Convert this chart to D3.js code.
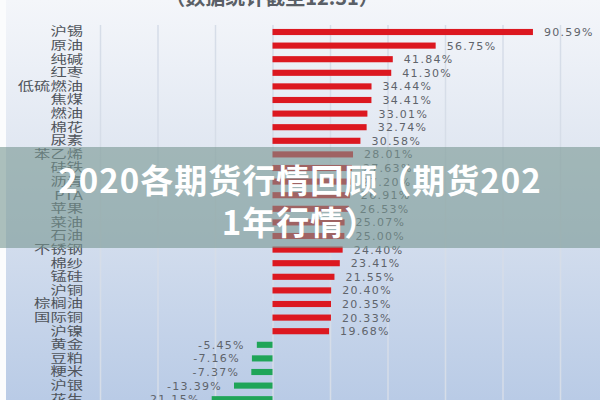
<!DOCTYPE html>
<html>
<head>
<meta charset="utf-8">
<script src="https://cdn.jsdelivr.net/npm/d3@7"></script>
<style>
  body { margin: 0; background: #fff; }
  svg { display: block; }
</style>
</head>
<body>
<svg width="600" height="400"></svg>
<script>
// categories top to bottom, with their 2020 change in %
const categories = ['沪锡', '原油', '纯碱', '红枣', '低硫燃油', '焦煤', '燃油', '棉花', '尿素',
    '苯乙烯', '硅铁', '沥青', 'PTA', '苹果', '菜油', '石油', '不锈钢', '棉纱', '锰硅', '沪铜',
    '棕榈油', '国际铜', '沪镍', '黄金', '豆粕', '粳米', '沪银', '花生'];
const changes = [90.59, 56.75, 41.84, 41.30, 34.44, 34.41, 33.01, 32.74, 30.58,
    28.01, 27.63, 27.20, 26.91, 26.53, 25.07, 25.00, 24.40, 23.41, 21.55, 20.40,
    20.35, 20.33, 19.68, -5.45, -7.16, -7.37, -13.39, -21.15];
const gridTicks = [-60, -40, -20, 0, 20, 40, 60, 80, 100];
const subtitle = '（数据统计截至12.31）';
const titleLines = ['2020各期货行情回顾（期货202', '1年行情）'];

const svg = d3.select('svg');
const width = +svg.attr('width');
const height = +svg.attr('height');

const data = categories.map((c, i) => ({ name: c, value: changes[i] }));

// background gradient like the screenshot
const defs = svg.append('defs');
const grad = defs.append('linearGradient')
    .attr('id', 'bg').attr('x1', 0).attr('y1', 0).attr('x2', 0).attr('y2', 1);
grad.append('stop').attr('offset', '0%').attr('stop-color', '#f4f6fa');
grad.append('stop').attr('offset', '40%').attr('stop-color', '#dfe6f1');
grad.append('stop').attr('offset', '100%').attr('stop-color', '#b9cbe6');

svg.append('rect')
    .attr('width', width).attr('height', height)
    .attr('fill', 'url(#bg)');
svg.append('rect')
    .attr('width', 6).attr('height', height)
    .attr('fill', '#fbfcfd');

const x = d3.scaleLinear()
    .domain([-60, 100])
    .range([100, 560]);

const y = d3.scaleBand()
    .domain(categories)
    .range([25.2, 25.2 + 13.6 * categories.length])
    .paddingInner(0.55)
    .paddingOuter(0.275);

// vertical grid lines
const grid = d3.axisTop(x)
    .tickValues(gridTicks)
    .tickSize(-(height - 25))
    .tickFormat('');
svg.append('g')
    .attr('class', 'grid')
    .attr('transform', 'translate(0,25)')
    .call(grid)
    .call(g => g.select('.domain').remove())
    .call(g => g.selectAll('line').attr('stroke', '#d6dde8').attr('stroke-width', 1.5));

// subtitle, mostly cut off at the top
svg.append('text')
    .attr('x', 272)
    .attr('y', 5)
    .attr('text-anchor', 'middle')
    .attr('font-family', '"Noto Sans CJK SC", sans-serif')
    .attr('font-size', 20)
    .attr('font-weight', 700)
    .attr('fill', '#5a5f66')
    .text(subtitle);

// bars
svg.selectAll('.bar')
    .data(data)
    .enter()
    .append('rect')
    .attr('class', 'bar')
    .attr('x', d => x(Math.min(0, d.value)))
    .attr('y', d => y(d.name))
    .attr('width', d => Math.abs(x(d.value) - x(0)))
    .attr('height', y.bandwidth())
    .attr('fill', d => d.value >= 0 ? '#dc1820' : '#1fa558');

// category labels (the screenshot is stretched sideways)
svg.selectAll('.cat')
    .data(data)
    .enter()
    .append('text')
    .attr('class', 'cat')
    .attr('transform', d => `translate(83, ${y(d.name) + y.bandwidth() / 2}) scale(1.36, 1)`)
    .attr('dy', '0.36em')
    .attr('text-anchor', 'end')
    .attr('font-family', '"Noto Sans CJK SC", sans-serif')
    .attr('font-size', 12)
    .attr('fill', '#50555c')
    .text(d => d.name);

// value labels
svg.selectAll('.val')
    .data(data)
    .enter()
    .append('text')
    .attr('class', 'val')
    .attr('x', d => d.value >= 0 ? x(d.value) + 11 : x(d.value) - 12)
    .attr('y', d => y(d.name) + y.bandwidth() / 2)
    .attr('dy', '0.36em')
    .attr('text-anchor', d => d.value >= 0 ? 'start' : 'end')
    .attr('font-family', '"DejaVu Sans", sans-serif')
    .attr('font-size', 11)
    .attr('letter-spacing', 1.3)
    .attr('fill', '#5f646b')
    .text(d => d.value.toFixed(2) + '%');

// translucent title band laid over the picture
svg.append('rect')
    .attr('x', 0).attr('y', 147)
    .attr('width', width).attr('height', 101)
    .attr('fill', 'rgb(118,150,145)')
    .attr('opacity', 0.6);

svg.selectAll('.title')
    .data(titleLines)
    .enter()
    .append('text')
    .attr('class', 'title')
    .attr('x', 300)
    .attr('y', (d, i) => 193 + i * 42)
    .attr('text-anchor', 'middle')
    .attr('font-family', '"Noto Sans CJK SC", sans-serif')
    .attr('font-size', 33)
    .attr('font-weight', 700)
    .attr('letter-spacing', 1)
    .attr('fill', '#ffffff')
    .text(d => d);
</script>
</body>
</html>
